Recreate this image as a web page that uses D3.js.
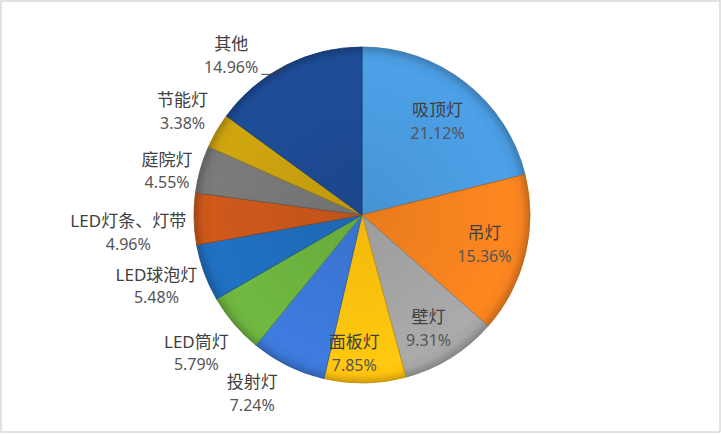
<!DOCTYPE html>
<html>
<head>
<meta charset="utf-8">
<script src="https://cdn.jsdelivr.net/npm/d3@7/dist/d3.min.js"></script>
<style>
  html, body { margin: 0; padding: 0; background: #fff; }
  svg { display: block; }
  text { font-family: "Noto Sans", "Noto Sans CJK SC", sans-serif; fill: #404040; }
  text.val { fill: #555; }
</style>
</head>
<body>
<div id="chart"></div>
<script>
// -------- Data (clockwise from 12 o'clock) --------
const categories = ["吸顶灯", "吊灯", "壁灯", "面板灯", "投射灯", "LED筒灯", "LED球泡灯", "LED灯条、灯带", "庭院灯", "节能灯", "其他"];
const shares = [21.12, 15.36, 9.31, 7.85, 7.24, 5.79, 5.48, 4.96, 4.55, 3.38, 14.96];
const sliceColors = ["#4a9be0", "#f5821f", "#a5a5a5", "#ffc20e", "#3c78d8", "#6db33f", "#1f6dbd", "#c9561a", "#777777", "#c9a00e", "#1d4a93"];
// labels drawn on the slice (the rest go outside)
const insideLabels = ["吸顶灯", "吊灯", "壁灯", "面板灯"];

// -------- Layout --------
const W = 722, H = 434;
const cx = 362, cy = 215, R = 168;

// small hand nudges so labels sit where the original's best-fit put them
const labelNudge = {
  "吸顶灯": [-2, 6], "吊灯": [0, 0], "壁灯": [0, 7], "面板灯": [-10, 13],
  "投射灯": [-21, 1], "LED筒灯": [-7, 10], "LED球泡灯": [-2, 3],
  "LED灯条、灯带": [0, 13], "庭院灯": [-1, 10], "节能灯": [-5, -4], "其他": [-11, 10]
};

const svg = d3.select("#chart").append("svg")
  .attr("width", W)
  .attr("height", H);

// frame
svg.append("rect")
  .attr("x", 1).attr("y", 1)
  .attr("width", W - 3).attr("height", H - 3)
  .attr("fill", "#fff")
  .attr("stroke", "#d9d9d9")
  .attr("stroke-width", 1.5);

const data = categories.map((c, i) => ({ name: c, value: shares[i], color: sliceColors[i] }));

const pie = d3.pie().sort(null).value(d => d.value);
const arcs = pie(data);
const arc = d3.arc().innerRadius(0).outerRadius(R);

// bevel-ish gradients, one per slice colour (user space of the translated group)
const defs = svg.append("defs");
arcs.forEach((a, i) => {
  const c = d3.color(a.data.color);
  const gr = defs.append("radialGradient")
    .attr("id", "grad" + i)
    .attr("gradientUnits", "userSpaceOnUse")
    .attr("cx", 0).attr("cy", 0).attr("r", R);
  gr.append("stop").attr("offset", "0%").attr("stop-color", c.darker(0.15));
  gr.append("stop").attr("offset", "89%").attr("stop-color", c.brighter(0.1));
  gr.append("stop").attr("offset", "95%").attr("stop-color", c);
  gr.append("stop").attr("offset", "100%").attr("stop-color", c.darker(0.6));
});

const g = svg.append("g").attr("transform", `translate(${cx},${cy})`);

g.selectAll("path.slice")
  .data(arcs)
  .join("path")
  .attr("class", "slice")
  .attr("d", arc)
  .attr("fill", (d, i) => `url(#grad${i})`)
  .attr("stroke", d => d3.color(d.data.color).darker(0.8))
  .attr("stroke-width", 0.8)
  .attr("stroke-linejoin", "round");

// -------- Labels --------
const nameSize = 17, valSize = 16, lineGap = 23;
const midAngle = d => (d.startAngle + d.endAngle) / 2;
const innerLabelArc = d3.arc().innerRadius(R * 0.75).outerRadius(R * 0.75);

// rough text box width for outside placement
function boxWidth(str) {
  let w = 0;
  for (const ch of str) w += /[\u3000-\u9fff]/.test(ch) ? nameSize : nameSize * 0.6;
  return w;
}

function labelPos(d) {
  let x, y;
  if (insideLabels.includes(d.data.name)) {
    [x, y] = innerLabelArc.centroid(d);
  } else {
    let a = midAngle(d);
    if (d.data.name === "其他") a -= 0.2;
    const s = Math.sin(a), c = -Math.cos(a);
    const w = boxWidth(d.data.name), h = 44;
    x = (R + 8) * s + (w / 2) * s;
    y = (R + 8) * c + (h / 2) * c + (d.data.name === "其他" ? -14 : 0);
  }
  const n = labelNudge[d.data.name] || [0, 0];
  return [x + n[0], y + n[1]];
}

const labels = g.selectAll("g.label")
  .data(arcs)
  .join("g")
  .attr("class", "label")
  .attr("transform", d => `translate(${labelPos(d)})`);

labels.append("text")
  .attr("text-anchor", "middle")
  .attr("y", -lineGap / 2)
  .attr("dy", "0.35em")
  .attr("font-size", nameSize)
  .text(d => d.data.name);

labels.append("text")
  .attr("class", "val")
  .attr("text-anchor", "middle")
  .attr("y", lineGap / 2)
  .attr("dy", "0.35em")
  .attr("font-size", valSize)
  .text(d => d.data.value.toFixed(2) + "%");

// leader line for 其他
const other = arcs.find(d => d.data.name === "其他");
const [ox, oy] = labelPos(other);
const lx = ox + 30, ly = oy + lineGap / 2 + 7;
const edge = d3.arc().innerRadius(R - 2).outerRadius(R - 2).centroid(other);
g.append("polyline")
  .attr("points", [[lx, ly], [lx + 12, ly], edge].map(p => p.join(",")).join(" "))
  .attr("fill", "none")
  .attr("stroke", "#404040")
  .attr("stroke-width", 1);
</script>
</body>
</html>
